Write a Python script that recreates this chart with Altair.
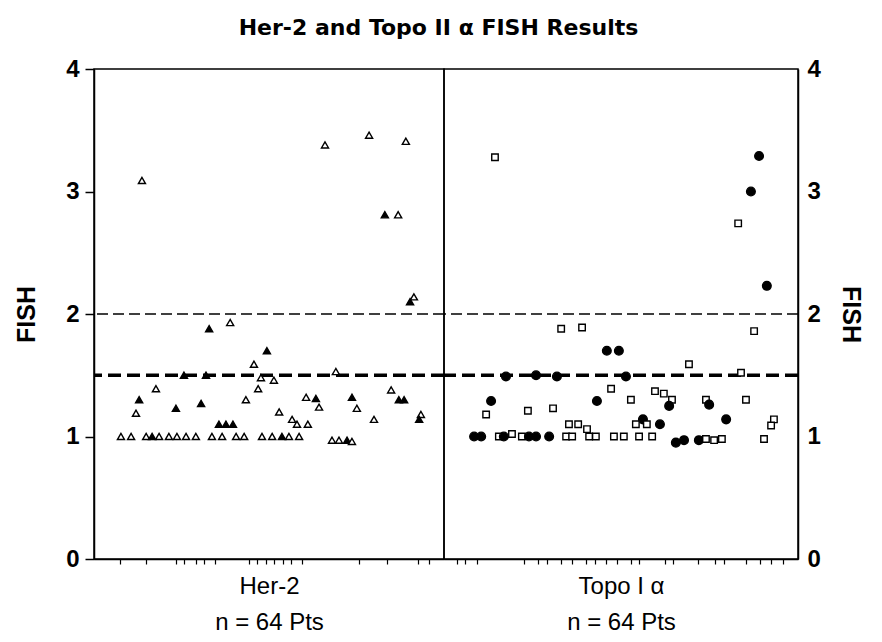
import altair as alt
import pandas as pd

# ---------------- data ----------------
# Her-2 panel: patient order position (0-100) and FISH ratio
her2_x = [13.7, 66.0, 78.6, 89.1, 83.1, 86.9, 90.3, 91.4, 32.9, 38.9, 49.4, 45.7,
          25.7, 32.0, 47.7, 51.4, 69.1, 17.7, 12.9, 12.0, 23.4, 30.6, 43.4, 46.9,
          52.9, 56.6, 58.0, 61.1, 60.6, 63.4, 64.3, 73.7, 75.1, 80.0, 84.9, 87.1,
          88.6, 93.4, 92.9, 35.7, 37.7, 39.7,
          7.7, 10.6, 14.9, 16.6, 18.6, 21.4, 23.7, 26.3, 29.1, 33.7, 36.6, 40.6,
          42.9, 48.0, 50.9, 53.7, 55.7, 58.6, 68.0, 70.0, 72.3, 73.7]
her2_y = [3.09, 3.38, 3.46, 3.41, 2.81, 2.81, 2.10, 2.14, 1.88, 1.93, 1.70, 1.59,
          1.50, 1.50, 1.48, 1.46, 1.53, 1.39, 1.30, 1.19, 1.23, 1.27, 1.30, 1.39,
          1.20, 1.14, 1.10, 1.10, 1.32, 1.31, 1.24, 1.32, 1.23, 1.14, 1.38, 1.30,
          1.30, 1.18, 1.14, 1.10, 1.10, 1.10,
          1.0, 1.0, 1.0, 1.0, 1.0, 1.0, 1.0, 1.0, 1.0, 1.0, 1.0, 1.0,
          1.0, 1.0, 1.0, 1.0, 1.0, 1.0, 0.97, 0.97, 0.97, 0.96]
her2_fill = ["open", "open", "open", "open", "filled", "open", "filled", "open", "filled", "open", "filled", "open",
             "filled", "filled", "open", "open", "open", "open", "filled", "open", "filled", "filled", "open", "open",
             "open", "open", "open", "open", "open", "filled", "open", "filled", "open", "open", "open", "filled",
             "filled", "open", "filled", "filled", "filled", "filled",
             "open", "open", "open", "filled", "open", "open", "open", "open", "open", "open", "open", "open",
             "open", "open", "open", "filled", "open", "open", "open", "open", "filled", "open"]

# Topo II alpha panel
topo_x = [14.4, 89.0, 86.7, 83.1, 91.2, 33.1, 39.0, 46.0, 49.4, 87.6, 69.2,
          17.5, 26.0, 31.9, 51.4, 83.9, 13.3, 11.9, 23.7, 30.8, 43.2, 47.2,
          52.8, 59.6, 62.1, 64.4, 63.6, 74.0, 74.9, 85.3, 79.7, 93.2, 92.4,
          90.4, 78.5, 35.3, 37.9, 40.4, 56.2, 54.2, 57.3, 61.0,
          8.5, 10.5, 15.5, 16.9, 19.2, 22.0, 24.0, 26.0, 29.7, 34.5, 36.2,
          41.0, 42.9, 48.0, 50.8, 55.1, 58.8, 65.5, 67.8, 72.0, 74.0, 76.3]
topo_y = [3.28, 3.29, 3.00, 2.74, 2.23, 1.88, 1.89, 1.70, 1.70, 1.86, 1.59,
          1.49, 1.50, 1.49, 1.49, 1.52, 1.29, 1.18, 1.21, 1.23, 1.29, 1.39,
          1.30, 1.37, 1.35, 1.30, 1.25, 1.30, 1.26, 1.30, 1.14, 1.14, 1.09,
          0.98, 0.98, 1.10, 1.10, 1.06, 1.14, 1.10, 1.10, 1.10,
          1.0, 1.0, 1.0, 1.0, 1.02, 1.0, 1.0, 1.0, 1.0, 1.0, 1.0,
          1.0, 1.0, 1.0, 1.0, 1.0, 1.0, 0.95, 0.97, 0.97, 0.98, 0.97]
topo_marker = ["square", "circle", "circle", "square", "circle", "square", "square", "circle", "circle", "square", "square",
               "circle", "circle", "circle", "circle", "square", "circle", "square", "square", "square", "circle", "square",
               "square", "square", "square", "square", "circle", "square", "circle", "square", "circle", "square", "square",
               "square", "square", "square", "square", "square", "circle", "square", "square", "circle",
               "circle", "circle", "square", "circle", "square", "square", "circle", "circle", "circle", "square", "square",
               "square", "square", "square", "square", "square", "square", "circle", "circle", "circle", "square", "square"]

her2_ticks = [7.4, 14.9, 23.4, 25.7, 29.1, 31.4, 34.6, 44.3, 46.6, 49.1, 51.4, 54.0,
              56.3, 59.4, 75.7, 83.7, 92.6, 95.7]
topo_ticks = [3.7, 5.9, 9.3, 22.6, 26.6, 29.1, 33.1, 36.2, 40.1, 42.7, 45.8, 48.9,
              52.8, 55.1, 62.4, 64.7, 71.8, 76.6, 79.1, 85.3, 89.3, 92.4, 95.8]
y_ticks = [0, 0.5, 1, 1.5, 2, 2.5, 3, 3.5, 4]
y_labels = [0, 1, 2, 3, 4]
cutoff_high = 2.0
cutoff_low = 1.5

title_text = "Her-2 and Topo II \u03b1 FISH Results"
her2_title = ["Her-2", "n = 64 Pts"]
topo_title = ["Topo I \u03b1", "n = 64 Pts"]

# ---------------- frames ----------------
her2_df = pd.DataFrame({"x": her2_x, "y": her2_y, "fill": her2_fill})
topo_df = pd.DataFrame({"x": topo_x, "y": topo_y, "marker": topo_marker})

FONT = "Liberation Sans"
W_L, W_R, H = 350, 354, 490

yscale = alt.Scale(domain=[0, 4], nice=False, zero=True)
xscale = alt.Scale(domain=[0, 100], nice=False, zero=False)

left_y_axis = alt.Axis(
    values=y_ticks, format="d",
    labelExpr="datum.value % 1 === 0 ? datum.label : ''",
    tickSize={"condition": {"test": "datum.value % 1 === 0", "value": 9}, "value": 6},
    tickColor="black", tickWidth=1.5, domainColor="black", domainWidth=1.5,
    labelFont=FONT, labelFontSize=24, labelFontWeight="bold", labelColor="black",
    labelPadding=6, grid=False,
    title="FISH", titleFont=FONT, titleFontSize=25, titleFontWeight="bold",
    titleColor="black", titlePadding=26,
)
right_y_axis = alt.Axis(
    orient="right", values=y_labels, format="d", ticks=False,
    domainColor="black", domainWidth=1.5,
    labelFont=FONT, labelFontSize=24, labelFontWeight="bold", labelColor="black",
    labelPadding=9, grid=False,
    title="FISH", titleFont=FONT, titleFontSize=25, titleFontWeight="bold",
    titleColor="black", titlePadding=17,
)


def x_axis(ticks, title):
    return alt.Axis(
        values=ticks, labels=False, tickSize=5, tickColor="black", tickWidth=1.2,
        domainColor="black", domainWidth=1.5, grid=False,
        title=title, titleFont=FONT, titleFontSize=24, titleFontWeight="normal",
        titleColor="black", titlePadding=10, titleLineHeight=36,
    )


def cut_rules():
    hi = alt.Chart(pd.DataFrame({"y": [cutoff_high]})).mark_rule(
        color="black", strokeWidth=1.6, strokeDash=[11, 5]
    ).encode(y=alt.Y("y:Q", scale=yscale))
    lo = alt.Chart(pd.DataFrame({"y": [cutoff_low]})).mark_rule(
        color="black", strokeWidth=3.5, strokeDash=[13, 6]
    ).encode(y=alt.Y("y:Q", scale=yscale))
    return hi, lo


hi_l, lo_l = cut_rules()
left_pts = alt.Chart(her2_df).mark_point(
    shape="triangle-up", size=50, filled=True, stroke="black", strokeWidth=1.4, opacity=1
).encode(
    x=alt.X("x:Q", scale=xscale, axis=x_axis(her2_ticks, her2_title)),
    y=alt.Y("y:Q", scale=yscale, axis=left_y_axis),
    fill=alt.Fill("fill:N", scale=alt.Scale(domain=["filled", "open"], range=["black", "white"]), legend=None),
)
left = alt.layer(hi_l, lo_l, left_pts).properties(width=W_L, height=H)

hi_r, lo_r = cut_rules()
right_pts = alt.Chart(topo_df).mark_point(
    filled=True, stroke="black", strokeWidth=1.4, opacity=1
).encode(
    x=alt.X("x:Q", scale=xscale, axis=x_axis(topo_ticks, topo_title)),
    y=alt.Y("y:Q", scale=yscale, axis=right_y_axis),
    shape=alt.Shape("marker:N", scale=alt.Scale(domain=["circle", "square"], range=["circle", "square"]), legend=None),
    fill=alt.Fill("marker:N", scale=alt.Scale(domain=["circle", "square"], range=["black", "white"]), legend=None),
    size=alt.Size("marker:N", scale=alt.Scale(domain=["circle", "square"], range=[75, 42]), legend=None),
)
right = alt.layer(hi_r, lo_r, right_pts).properties(width=W_R, height=H)

chart = alt.hconcat(left, right, spacing=0, bounds="flush").properties(
    title=alt.TitleParams(
        title_text, font="DejaVu Sans", fontSize=22, fontWeight="bold", color="black",
        anchor="middle", offset=16,
    ),
    padding={"left": 5, "top": 9, "right": 4, "bottom": 0},
).configure(
    background="white"
).configure_view(
    stroke="black", strokeWidth=1.5
)

chart.save("out.html", embed_options={"renderer": "svg", "actions": False})
